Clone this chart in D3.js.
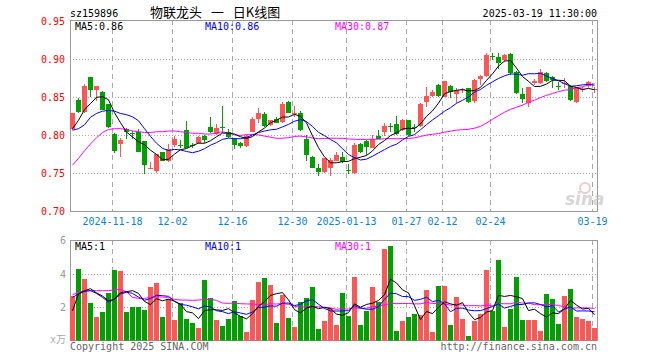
<!DOCTYPE html>
<html>
<head>
<meta charset="utf-8">
<script src="https://cdn.jsdelivr.net/npm/d3@7"></script>
<style>
  body { margin: 0; background: #fff; }
  text { font-family: "DejaVu Sans Mono", monospace; font-size: 10px; }
</style>
</head>
<body>
<div id="chart"></div>
<script>
// trading days shown on the chart
const dates = [
  "2024-11-07","2024-11-08","2024-11-11","2024-11-12","2024-11-13","2024-11-14","2024-11-15",
  "2024-11-18","2024-11-19","2024-11-20","2024-11-21","2024-11-22",
  "2024-11-25","2024-11-26","2024-11-27","2024-11-28","2024-11-29",
  "2024-12-02","2024-12-03","2024-12-04","2024-12-05","2024-12-06",
  "2024-12-09","2024-12-10","2024-12-11","2024-12-12","2024-12-13",
  "2024-12-16","2024-12-17","2024-12-18","2024-12-19","2024-12-20",
  "2024-12-23","2024-12-24","2024-12-25","2024-12-26","2024-12-27",
  "2024-12-30","2024-12-31","2025-01-02","2025-01-03",
  "2025-01-06","2025-01-07","2025-01-08","2025-01-09","2025-01-10",
  "2025-01-13","2025-01-14","2025-01-15","2025-01-16","2025-01-17",
  "2025-01-20","2025-01-21","2025-01-22","2025-01-23","2025-01-24",
  "2025-01-27","2025-02-05","2025-02-06","2025-02-07",
  "2025-02-10","2025-02-11","2025-02-12","2025-02-13","2025-02-14",
  "2025-02-17","2025-02-18","2025-02-19","2025-02-20","2025-02-21",
  "2025-02-24","2025-02-25","2025-02-26","2025-02-27","2025-02-28",
  "2025-03-03","2025-03-04","2025-03-05","2025-03-06","2025-03-07",
  "2025-03-10","2025-03-11","2025-03-12","2025-03-13","2025-03-14",
  "2025-03-17","2025-03-18","2025-03-19"
];

const open = [
  0.808,0.847,0.831,0.877,0.860,0.857,0.841,0.802,0.789,0.809,0.803,0.804,
  0.793,0.757,0.754,0.778,0.767,0.787,0.788,0.807,0.788,0.790,0.800,0.811,
  0.802,0.811,0.804,0.796,0.790,0.786,0.805,0.822,0.828,0.814,0.822,0.818,
  0.844,0.829,0.829,0.796,0.772,0.757,0.752,0.758,0.767,0.772,0.755,0.751,
  0.789,0.793,0.784,0.800,0.805,0.812,0.815,0.807,0.820,0.811,0.812,0.844,
  0.852,0.867,0.851,0.865,0.855,0.860,0.862,0.846,0.874,0.878,0.905,0.903,
  0.899,0.907,0.884,0.854,0.843,0.869,0.869,0.882,0.877,0.865,0.868,0.865,
  0.844,0.860,0.865,0.860
];
const high = [
  0.830,0.849,0.868,0.877,0.865,0.858,0.842,0.803,0.797,0.810,0.806,0.808,
  0.793,0.765,0.776,0.778,0.789,0.799,0.794,0.819,0.790,0.799,0.801,0.825,
  0.815,0.839,0.808,0.797,0.791,0.801,0.824,0.836,0.831,0.820,0.825,0.844,
  0.845,0.839,0.832,0.801,0.773,0.763,0.770,0.771,0.779,0.778,0.763,0.790,
  0.790,0.794,0.801,0.807,0.816,0.816,0.826,0.822,0.821,0.815,0.843,0.864,
  0.860,0.868,0.872,0.866,0.862,0.863,0.863,0.874,0.880,0.908,0.909,0.909,
  0.907,0.909,0.885,0.862,0.864,0.874,0.888,0.883,0.878,0.870,0.875,0.866,
  0.863,0.864,0.871,0.864
];
const low = [
  0.807,0.829,0.829,0.851,0.846,0.833,0.810,0.777,0.772,0.796,0.796,0.778,
  0.750,0.757,0.751,0.766,0.765,0.785,0.783,0.784,0.783,0.789,0.790,0.803,
  0.801,0.803,0.797,0.782,0.784,0.785,0.804,0.817,0.811,0.812,0.816,0.817,
  0.829,0.825,0.806,0.767,0.757,0.747,0.751,0.747,0.766,0.764,0.750,0.750,
  0.777,0.775,0.783,0.795,0.799,0.805,0.801,0.806,0.800,0.805,0.811,0.838,
  0.851,0.851,0.850,0.849,0.843,0.856,0.843,0.843,0.867,0.877,0.899,0.887,
  0.897,0.880,0.855,0.843,0.838,0.866,0.868,0.870,0.862,0.860,0.862,0.845,
  0.843,0.857,0.863,0.856
];
const close = [
  0.830,0.831,0.865,0.860,0.865,0.834,0.811,0.780,0.794,0.804,0.802,0.779,
  0.761,0.758,0.776,0.767,0.782,0.795,0.787,0.784,0.786,0.798,0.794,0.804,
  0.810,0.810,0.798,0.788,0.786,0.799,0.822,0.829,0.813,0.820,0.817,0.842,
  0.830,0.830,0.807,0.774,0.757,0.752,0.770,0.768,0.774,0.765,0.754,0.787,
  0.778,0.785,0.795,0.796,0.813,0.811,0.802,0.821,0.801,0.810,0.842,0.852,
  0.857,0.852,0.871,0.857,0.860,0.861,0.844,0.873,0.878,0.906,0.904,0.895,
  0.906,0.882,0.856,0.848,0.864,0.872,0.883,0.871,0.873,0.864,0.869,0.847,
  0.862,0.861,0.870,0.861
];
// volume in 万
const volume = [
  2.68,4.30,3.70,2.26,1.42,1.72,2.86,4.24,4.18,1.72,2.02,2.02,
  1.84,3.22,3.48,1.42,2.50,1.24,2.26,1.30,1.06,0.76,3.64,2.56,
  1.24,0.88,1.30,2.38,1.48,0.52,2.44,3.52,3.76,3.34,1.06,2.74,
  1.36,0.82,2.32,2.56,3.22,0.70,1.18,1.94,0.94,2.86,1.48,3.82,
  0.94,1.78,3.22,2.32,5.50,5.68,0.58,1.18,1.42,1.60,1.54,3.04,
  0.52,3.28,3.28,0.94,2.62,1.30,0.28,1.18,1.60,4.24,1.76,4.84,
  0.83,1.91,3.82,1.24,1.24,1.24,0.58,2.80,2.51,1.00,2.68,3.10,
  1.42,1.31,1.18,0.77
];

// averages for days whose window starts before the first candle
const ma5Head = [0.809,0.820,0.834,0.842];
const ma10Head = [0.807,0.809,0.814,0.824,0.829,0.832,0.833,0.832,0.829];
const ma30Head = [
  0.761,0.770,0.780,0.789,0.797,0.804,0.808,0.809,0.809,0.808,
  0.806,0.805,0.804,0.804,0.805,0.805,0.806,0.806,0.805,0.804,
  0.803,0.803,0.802,0.802,0.803,0.805,0.803,0.801,0.800
];
const volMa5Head = [1.8,2.8,3.0,3.12];
const volMa10Head = [2.6,2.8,2.96,3.0,2.84,2.6,2.32,2.48,2.8];
const volMa30Head = [
  2.76,2.9,3.0,3.0,3.0,3.0,3.0,3.06,3.06,2.94,
  2.6,2.54,2.54,2.6,2.64,2.62,2.6,2.48,2.44,2.44,
  2.42,2.44,2.48,2.48,2.42,2.26,2.24,2.26,2.22
];

const priceTicks = [0.95, 0.90, 0.85, 0.80, 0.75, 0.70];
const volTicks = [6, 4, 2];
const tickDates = ["2024-11-18","2024-12-02","2024-12-16","2024-12-30","2025-01-13",
                   "2025-01-27","2025-02-12","2025-02-24","2025-03-19"];
const tickLabels = ["2024-11-18","12-02","12-16","12-30","2025-01-13",
                    "01-27","02-12","02-24","03-19"];
const priceLegend = ["MA5:0.86", "MA10:0.86", "MA30:0.87"];
const volLegend = ["MA5:1", "MA10:1", "MA30:1"];

const width = 660, height = 360;
const left = 70, right = 598;
const maColors = ["#000000", "#0000ff", "#ff00ff"];
const up = "#ff5555", down = "#00a000";

function movingAvg(values, n, head) {
  return values.map((v, i) => {
    if (i < n - 1) return head[i];
    return d3.mean(values.slice(i - n + 1, i + 1));
  });
}

const svg = d3.select("#chart").append("svg")
  .attr("width", width)
  .attr("height", height)
  .style("background", "#fff");

const x = d3.scaleBand()
  .domain(dates)
  .range([left, right])
  .paddingInner(0)
  .paddingOuter(0);

const y = d3.scaleLinear().domain([0.70, 0.95]).range([211.7, 21.3]);
const yv = d3.scaleLinear().domain([0, 6]).range([340.7, 240.7]);

const snap = v => Math.round(v) + 0.5;
const isUp = i => close[i] >= open[i];

// header
svg.append("text").attr("x", 70).attr("y", 17).attr("fill", "#000").text("sz159896");
svg.append("text").attr("x", 150).attr("y", 16.5)
  .style("font-family", "'Noto Sans CJK SC', sans-serif")
  .style("font-size", "13px")
  .style("word-spacing", "6px")
  .style("white-space", "pre")
  .attr("fill", "#000")
  .text("物联龙头 一 日K线图");
svg.append("text").attr("x", 597).attr("y", 17).attr("text-anchor", "end")
  .attr("fill", "#000").text("2025-03-19 11:30:00");

// panels: grids and frames
function panel(top, bottom, yScale, hTicks) {
  const g = svg.append("g");
  g.selectAll("line.h")
    .data(hTicks)
    .enter().append("line")
      .attr("x1", left).attr("x2", right)
      .attr("y1", d => snap(yScale(d) - 0.5)).attr("y2", d => snap(yScale(d) - 0.5))
      .attr("stroke", "#aaa")
      .attr("stroke-dasharray", "1,2");
  g.selectAll("line.v")
    .data(tickDates)
    .enter().append("line")
      .attr("x1", d => x(d) + 0.5).attr("x2", d => x(d) + 0.5)
      .attr("y1", top).attr("y2", bottom)
      .attr("stroke", "#aaa")
      .attr("stroke-dasharray", "5,4");
  g.append("rect")
    .attr("x", left + 0.5).attr("y", top + 0.5)
    .attr("width", right - left - 1).attr("height", bottom - top)
    .attr("fill", "none")
    .attr("stroke", "#999");
}
panel(20, 211, y, [0.90, 0.85, 0.80, 0.75]);
panel(240, 340, yv, [4, 2]);

// sina watermark
const wm = svg.append("g").attr("opacity", 0.55);
wm.append("circle").attr("cx", 585).attr("cy", 188).attr("r", 5)
  .attr("fill", "none").attr("stroke", "#e8a0a0").attr("stroke-width", 2);
wm.append("text").attr("x", 565).attr("y", 205)
  .style("font-family", "'DejaVu Sans', sans-serif")
  .style("font-size", "17px").style("font-style", "italic").style("font-weight", "bold")
  .attr("fill", "#b8b8b8").text("sina");

// price axis labels
svg.append("g").selectAll("text")
  .data(priceTicks)
  .enter().append("text")
    .attr("x", 65)
    .attr("y", d => y(d) + 3.5)
    .attr("text-anchor", "end")
    .attr("fill", "#ff0000")
    .text(d => d.toFixed(2));

// date labels
svg.append("g").selectAll("text")
  .data(tickDates)
  .enter().append("text")
    .attr("x", d => x(d) + 0.5)
    .attr("y", 225)
    .attr("text-anchor", "middle")
    .attr("fill", "#0a84d8")
    .text((d, i) => tickLabels[i]);

// candles
const idx = d3.range(dates.length);
const candles = svg.append("g");
candles.selectAll("rect.wick")
  .data(idx)
  .enter().append("rect")
    .attr("x", i => x(dates[i]) + 2)
    .attr("y", i => Math.round(y(high[i])))
    .attr("width", 1)
    .attr("height", i => Math.max(1, Math.round(y(low[i])) - Math.round(y(high[i]))))
    .attr("fill", i => isUp(i) ? up : down);
candles.selectAll("rect.body")
  .data(idx)
  .enter().append("rect")
    .attr("x", i => x(dates[i]))
    .attr("y", i => Math.round(y(Math.max(open[i], close[i]))))
    .attr("width", 5)
    .attr("height", i => Math.max(1, Math.round(y(Math.min(open[i], close[i]))) - Math.round(y(Math.max(open[i], close[i])))))
    .attr("fill", i => isUp(i) ? up : down);

const priceMa = [
  movingAvg(close, 5, ma5Head),
  movingAvg(close, 10, ma10Head),
  movingAvg(close, 30, ma30Head)
];
const priceLine = d3.line()
  .x((d, i) => x(dates[i]) + 2.5)
  .y(d => y(d));
svg.append("g").selectAll("path")
  .data(priceMa.slice().reverse())
  .enter().append("path")
    .attr("d", priceLine)
    .attr("fill", "none")
    .attr("stroke", (d, i) => maColors[2 - i])
    .attr("stroke-width", 1);

// legends
const legendX = [75, 205, 335];
svg.append("g").selectAll("text")
  .data(priceLegend)
  .enter().append("text")
    .attr("x", (d, i) => legendX[i])
    .attr("y", 29.5)
    .attr("fill", (d, i) => maColors[i])
    .text(d => d);
svg.append("g").selectAll("text")
  .data(volLegend)
  .enter().append("text")
    .attr("x", (d, i) => legendX[i])
    .attr("y", 250)
    .attr("fill", (d, i) => maColors[i])
    .text(d => d);

// volume bars
svg.append("g").selectAll("rect")
  .data(idx)
  .enter().append("rect")
    .attr("x", i => x(dates[i]))
    .attr("y", i => Math.round(yv(volume[i])))
    .attr("width", 5)
    .attr("height", i => 340.7 - Math.round(yv(volume[i])))
    .attr("fill", i => isUp(i) ? up : down);

const volMa = [
  movingAvg(volume, 5, volMa5Head),
  movingAvg(volume, 10, volMa10Head),
  movingAvg(volume, 30, volMa30Head)
];
const volLine = d3.line()
  .x((d, i) => x(dates[i]) + 2.5)
  .y(d => yv(d));
svg.append("g").selectAll("path")
  .data(volMa.slice().reverse())
  .enter().append("path")
    .attr("d", volLine)
    .attr("fill", "none")
    .attr("stroke", (d, i) => maColors[2 - i])
    .attr("stroke-width", 1);

// volume axis labels
svg.append("g").selectAll("text")
  .data(volTicks)
  .enter().append("text")
    .attr("x", 66)
    .attr("y", d => yv(d) + 3.5)
    .attr("text-anchor", "end")
    .attr("fill", "#999")
    .text(d => d);
svg.append("text").attr("x", 66).attr("y", 343).attr("text-anchor", "end")
  .style("font-family", "'DejaVu Sans Mono', 'Noto Sans CJK SC', monospace")
  .attr("fill", "#aaa").text("x万");

// footer
svg.append("text").attr("x", 70).attr("y", 349.5).attr("fill", "#666")
  .text("Copyright 2025 SINA.COM");
svg.append("text").attr("x", 597).attr("y", 349.5).attr("text-anchor", "end")
  .attr("fill", "#666").text("http://finance.sina.com.cn");
</script>
</body>
</html>
